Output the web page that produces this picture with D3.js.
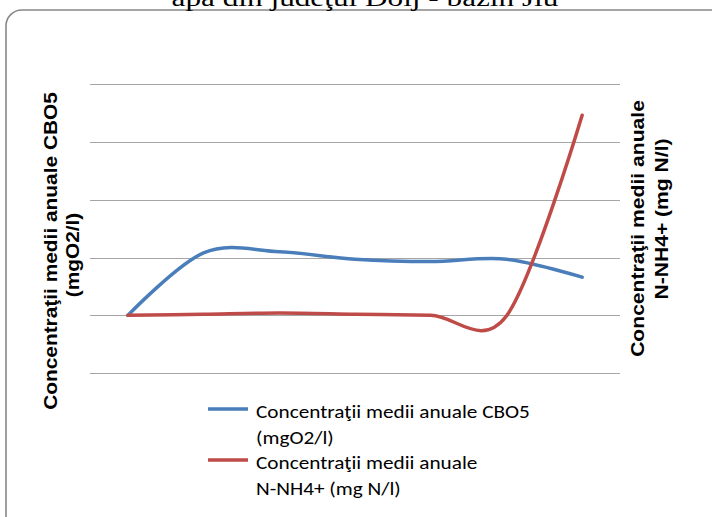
<!DOCTYPE html>
<html>
<head>
<meta charset="utf-8">
<script src="https://cdn.jsdelivr.net/npm/d3@7/dist/d3.min.js"></script>
<style>
html,body{margin:0;padding:0;background:#fff;}
svg{display:block;}
</style>
</head>
<body>
<svg id="chart" width="712" height="517"></svg>
<script>
// ---- data ----
const categories = ["1", "2", "3", "4", "5", "6", "7"];
const cboValues = [1.0, 2.08, 2.10, 1.97, 1.93, 1.97, 1.66];
const nh4Values = [1.0, 1.02, 1.04, 1.02, 1.0, 0.99, 4.46];
const leftTicks = [0, 1, 2, 3, 4, 5];
const titleText = "apă din judeţul Dolj - bazin Jiu";
const leftTitle = ["Concentraţii medii anuale CBO5", "(mgO2/l)"];
const rightTitle = ["Concentraţii medii anuale", "N-NH4+  (mg N/l)"];
const legendItems = [
  {lines: ["Concentraţii medii anuale CBO5", "(mgO2/l)"], color: "#4a7ebb"},
  {lines: ["Concentraţii medii anuale", "N-NH4+ (mg N/l)"], color: "#be4b48"}
];

const svg = d3.select("#chart");

// frame
svg.append("rect").attr("x", 6).attr("y", 10).attr("width", 730).attr("height", 530)
  .attr("rx", 16).attr("ry", 16).attr("fill", "#fff").attr("stroke", "#888").attr("stroke-width", 1.6);

// helper: text stretched along its direction to a target length
function stretched(parent, str, tx, ty, rot, targetLen, size, family, weight, anchor) {
  const g = parent.append("g");
  const t = g.append("text").attr("x", 0).attr("y", 0).attr("text-anchor", anchor)
    .attr("font-family", family).attr("font-weight", weight).attr("font-size", size)
    .attr("fill", "#000").text(str);
  const len = t.node().getComputedTextLength();
  const s = targetLen / len;
  g.attr("transform", `translate(${tx},${ty}) rotate(${rot}) scale(${s},1)`);
  return s;
}
function withScale(parent, str, tx, ty, rot, s, size, family, weight, anchor) {
  parent.append("g").attr("transform", `translate(${tx},${ty}) rotate(${rot}) scale(${s},1)`)
    .append("text").attr("x", 0).attr("y", 0).attr("text-anchor", anchor)
    .attr("font-family", family).attr("font-weight", weight).attr("font-size", size)
    .attr("fill", "#000").text(str);
}

// title (cut off at top)
stretched(svg, titleText, 365, 6, 0, 387, 24, "'Liberation Serif', 'Times New Roman', serif", "normal", "middle");

const x = d3.scaleBand().domain(categories).range([90, 620]);
const y = d3.scaleLinear().domain([0, 5]).range([373.2, 84]);
const yR = d3.scaleLinear().domain([0, 5]).range([373.2, 84]);
const cx = d => x(d) + x.bandwidth() / 2;

// gridlines
svg.append("g").selectAll("line").data(leftTicks).join("line")
  .attr("x1", 90).attr("x2", 620)
  .attr("y1", d => Math.round(y(d)) + 0.5).attr("y2", d => Math.round(y(d)) + 0.5)
  .attr("stroke", "#a6a6a6").attr("stroke-width", 1.2);

const lineL = d3.line().x((d, i) => cx(categories[i])).y(d => y(d)).curve(d3.curveCardinal.tension(0));
const lineR = d3.line().x((d, i) => cx(categories[i])).y(d => yR(d)).curve(d3.curveCardinal.tension(0));

svg.append("path").datum(cboValues).attr("d", lineL).attr("fill", "none")
  .attr("stroke", "#4a7ebb").attr("stroke-width", 3.5).attr("stroke-linecap", "round");
svg.append("path").datum(nh4Values).attr("d", lineR).attr("fill", "none")
  .attr("stroke", "#be4b48").attr("stroke-width", 3.5).attr("stroke-linecap", "round");

// axis titles
const titleFont = "'Liberation Sans', Arial, sans-serif";
const sL = stretched(svg, leftTitle[0], 57, 251, -90, 318, 17.5, titleFont, "bold", "middle");
withScale(svg, leftTitle[1], 79, 255, -90, sL, 17.5, titleFont, "bold", "middle");
const sR = stretched(svg, rightTitle[0], 644, 228.5, -90, 257, 17.5, titleFont, "bold", "middle");
withScale(svg, rightTitle[1], 668, 219, -90, sR, 17.5, titleFont, "bold", "middle");

// legend
const legendFont = "Carlito, Lato, sans-serif";
const legendBase = [418, 469];
const probe = svg.append("text").attr("font-family", legendFont).attr("font-size", 18).text(legendItems[0].lines[0]);
const sLeg = 274 / probe.node().getComputedTextLength();
probe.remove();
legendItems.forEach((item, k) => {
  const by = legendBase[k];
  svg.append("line").attr("x1", 208).attr("x2", 248).attr("y1", by - 9).attr("y2", by - 9)
    .attr("stroke", item.color).attr("stroke-width", 3.5);
  item.lines.forEach((t, j) => {
    withScale(svg, t, 256, by + j * 26, 0, sLeg, 18, legendFont, "normal", "start");
  });
});
</script>
</body>
</html>
